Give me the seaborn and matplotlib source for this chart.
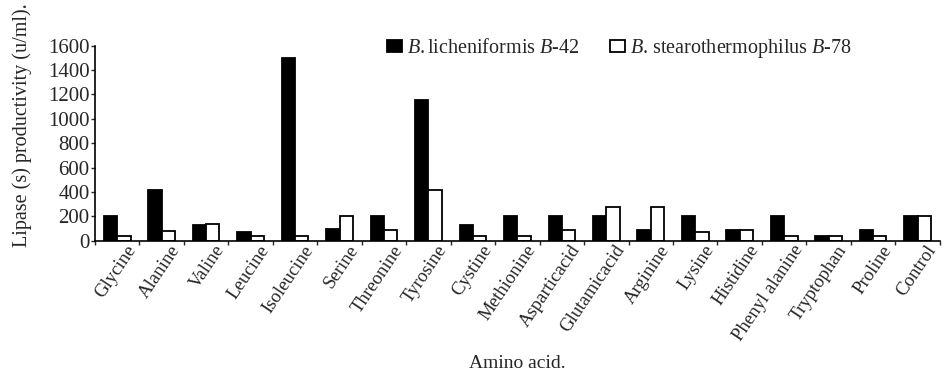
import matplotlib
matplotlib.use("Agg")
import matplotlib.pyplot as plt
import seaborn as sns
import pandas as pd
import numpy as np
from matplotlib.ticker import FixedLocator
import matplotlib.transforms as mtransforms

amino_acids = ["Glycine", "Alanine", "Valine", "Leucine", "Isoleucine", "Serine",
               "Threonine", "Tyrosine", "Cystine", "Methionine", "Asparticacid",
               "Glutamicacid", "Arginine", "Lysine", "Histidine", "Phenyl alanine",
               "Tryptophan", "Proline", "Control"]
licheniformis = [200, 415, 125, 75, 1500, 95, 200, 1150, 130, 200, 200, 200, 90, 200, 90, 200, 35, 90, 200]
stearo = [40, 80, 140, 40, 40, 200, 90, 415, 35, 35, 90, 280, 280, 70, 90, 35, 35, 35, 200]

lab1 = r"$\mathit{B.}$licheniformis $\mathit{B}$-$\mathit{42}$"
lab2 = r"$\mathit{B}$. stearothermophilus $\mathit{B}$-$\mathit{78}$"

df = pd.DataFrame({
    "Amino acid": amino_acids * 2,
    "value": licheniformis + stearo,
    "strain": [lab1] * len(amino_acids) + [lab2] * len(amino_acids),
})

sns.set_theme(style="white")
plt.rcParams['font.family'] = ['Liberation Serif', 'DejaVu Serif']
plt.rcParams['mathtext.fontset'] = 'custom'
plt.rcParams['mathtext.rm'] = 'Liberation Serif'
plt.rcParams['mathtext.it'] = 'Liberation Serif:italic'

fig = plt.figure(figsize=(9.45, 3.77), dpi=100)
ax = fig.add_axes([0.1005, 0.3615, 0.894, 0.5175])

sns.barplot(data=df, x="Amino acid", y="value", hue="strain",
            palette=["black", "white"], edgecolor="black", linewidth=1.3,
            width=0.6, ax=ax, order=amino_acids)

ax.set_ylim(0, 1600)
ax.set_xlim(-0.5, len(amino_acids) - 0.5)
ax.set_yticks(np.arange(0, 1601, 200))
ax.tick_params(axis='y', labelsize=15, length=3, width=1, direction='out', left=True, pad=1)
ax.tick_params(axis='x', which='major', length=0, labelsize=13.5, pad=1)
ax.xaxis.set_minor_locator(FixedLocator(np.arange(-0.5, len(amino_acids), 1)))
ax.tick_params(axis='x', which='minor', length=3, width=1, direction='out', bottom=True)
ax.set_xticks(range(len(amino_acids)))
ax.set_xticklabels(amino_acids, rotation=56, ha='right', rotation_mode='anchor')
offset = mtransforms.ScaledTranslation(8 / 100, 0, fig.dpi_scale_trans)
for lbl in ax.get_xticklabels():
    lbl.set_transform(lbl.get_transform() + offset)

for s in ["top", "right"]:
    ax.spines[s].set_visible(False)
for s in ["left", "bottom"]:
    ax.spines[s].set_color("black")
    ax.spines[s].set_linewidth(1.2)

ax.set_xlabel("Amino acid.", fontsize=14, labelpad=8)
ax.set_ylabel("Lipase (s) productivity (u/ml).", fontsize=14.5)
ax.yaxis.set_label_coords(-0.075, 0.59)

leg = ax.legend(loc="upper left", bbox_to_anchor=(0.39, 0.95), bbox_transform=fig.transFigure,
                ncol=2, frameon=False, fontsize=14.5, handlelength=0.75, handleheight=0.55,
                handletextpad=0.25, columnspacing=1.5)

fig.savefig("out.png", dpi=100)
